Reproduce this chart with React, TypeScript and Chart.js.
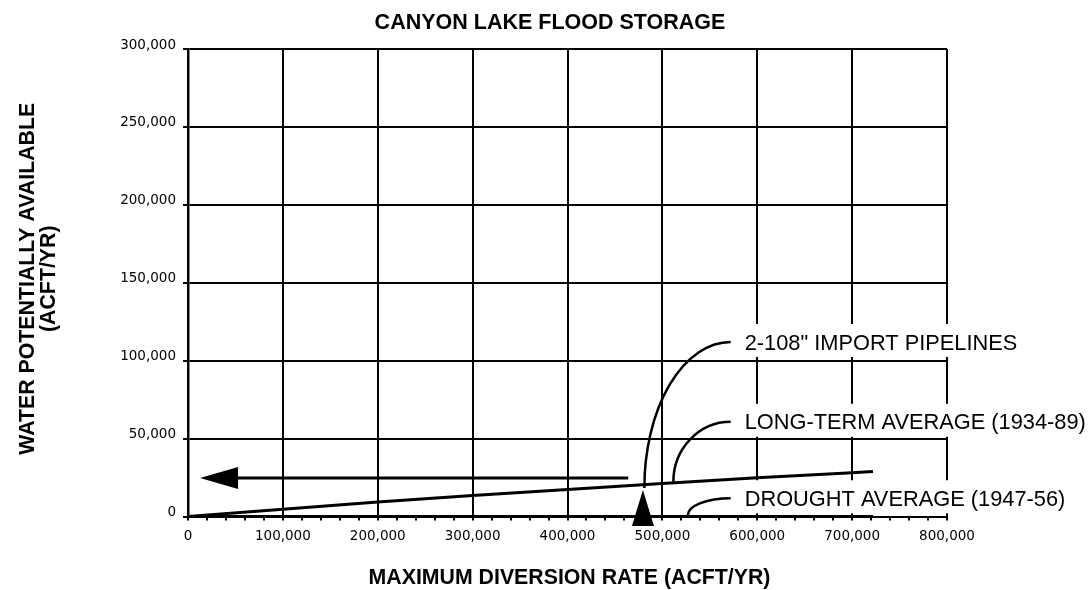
import React, { useEffect, useRef } from "react";
import { Chart, registerables } from "chart.js";

Chart.register(...registerables);

// ---------- data ----------
const diversionRates = [0, 100000, 200000, 300000, 400000, 500000, 600000, 700000, 722000];
const longTermAverage = [0, 4700, 9300, 13400, 17400, 21200, 24800, 28000, 28800];
const droughtAverage = [0, 0, 0, 0, 0, 0, 0, 0, 0];

const xMin = 0;
const xMax = 800000;
const xMajorStep = 100000;
const xMinorStep = 20000;
const yMin = 0;
const yMax = 300000;
const yStep = 50000;

const chartTitle = "CANYON LAKE FLOOD STORAGE";
const xAxisTitle = "MAXIMUM DIVERSION RATE (ACFT/YR)";
const yAxisTitle = ["WATER POTENTIALLY AVAILABLE", "(ACFT/YR)"];

// import arrow (horizontal, pointing to y axis)
const importArrowY = 24700;
const importArrowStartX = 464000;
const importArrowTipX = 12700;

// pipeline capacity marker (triangle on x axis)
const pipelineCapacityX = 479500;
const pipelineMarkerTopY = 17000;

// callouts
const calloutLabels = ['2-108" IMPORT PIPELINES', "LONG-TERM AVERAGE (1934-89)", "DROUGHT AVERAGE (1947-56)"];
const calloutAnchorX = [481000, 511600, 527000];
const calloutAnchorY = [18300, 22300, 1000];
const calloutEndX = [572000, 572000, 572000];
const calloutEndY = [112000, 60800, 11700];

const TITLE_FONT = 'bold 21.5px "Liberation Sans", Arial, sans-serif';
const AXIS_FONT = 'bold 21.3px "Liberation Sans", Arial, sans-serif';
const REG = '21.8px "Liberation Sans", Arial, sans-serif';

const annotationPlugin = {
  id: "annotations",
  beforeDatasetsDraw(chart: any) {
    const { ctx } = chart;
    const x = chart.scales.x;
    const y = chart.scales.y;
    ctx.save();
    ctx.font = REG;
    calloutLabels.forEach((t, i) => {
      const lx = x.getPixelForValue(calloutEndX[i]) + 14;
      const cy = y.getPixelForValue(calloutEndY[i]);
      const w = ctx.measureText(t).width;
      ctx.fillStyle = "#fff";
      ctx.fillRect(lx - 8, cy - 18, w + 16, 33);
    });
    ctx.restore();
  },
  afterDatasetsDraw(chart: any) {
    const { ctx } = chart;
    const x = chart.scales.x;
    const y = chart.scales.y;
    ctx.save();
    ctx.strokeStyle = "#000";
    ctx.fillStyle = "#000";

    // import arrow
    const ay = y.getPixelForValue(importArrowY);
    const tip = x.getPixelForValue(importArrowTipX);
    const start = x.getPixelForValue(importArrowStartX);
    ctx.lineWidth = 3;
    ctx.beginPath();
    ctx.moveTo(start, ay);
    ctx.lineTo(tip + 30, ay);
    ctx.stroke();
    ctx.beginPath();
    ctx.moveTo(tip, ay);
    ctx.lineTo(tip + 38, ay - 11);
    ctx.lineTo(tip + 38, ay + 11);
    ctx.closePath();
    ctx.fill();

    // pipeline triangle marker
    const px = x.getPixelForValue(pipelineCapacityX);
    const pTop = y.getPixelForValue(pipelineMarkerTopY);
    const pBase = y.getPixelForValue(0) + 9.5;
    ctx.beginPath();
    ctx.moveTo(px, pTop);
    ctx.lineTo(px + 11, pBase);
    ctx.lineTo(px - 11, pBase);
    ctx.closePath();
    ctx.fill();

    // callout leaders and labels
    ctx.lineWidth = 2.5;
    ctx.font = REG;
    ctx.textAlign = "left";
    ctx.textBaseline = "alphabetic";
    calloutLabels.forEach((t, i) => {
      const sx = x.getPixelForValue(calloutAnchorX[i]);
      const sy = y.getPixelForValue(calloutAnchorY[i]);
      const ex = x.getPixelForValue(calloutEndX[i]);
      const ey = y.getPixelForValue(calloutEndY[i]);
      ctx.beginPath();
      ctx.ellipse(ex, sy, ex - sx, sy - ey, 0, Math.PI, 1.5 * Math.PI);
      ctx.stroke();
      ctx.fillText(t, ex + 14, ey + 7.7);
    });
    ctx.restore();
  },
  afterDraw(chart: any) {
    const { ctx, chartArea } = chart;
    ctx.save();
    ctx.fillStyle = "#000";
    ctx.textAlign = "center";
    ctx.textBaseline = "alphabetic";
    ctx.font = TITLE_FONT;
    ctx.fillText(chartTitle, 550, 29);
    ctx.font = AXIS_FONT;
    ctx.fillText(xAxisTitle, (chartArea.left + chartArea.right) / 2 + 2, 583.5);
    const cy = (chartArea.top + chartArea.bottom) / 2 - 4;
    ctx.translate(0, cy);
    ctx.rotate(-Math.PI / 2);
    ctx.fillText(yAxisTitle[0], 0, 33.5);
    ctx.fillText(yAxisTitle[1], 0, 55);
    ctx.restore();
  },
};

export default function App() {
  const ref = useRef<HTMLCanvasElement>(null);
  useEffect(() => {
    if (!ref.current) return;
    const tickFont = { family: '"DejaVu Sans", Verdana, sans-serif', size: 13.5 };
    const chart = new Chart(ref.current, {
      type: "line",
      data: {
        datasets: [
          {
            label: "Long-term average (1934-89)",
            data: diversionRates.map((d, i) => ({ x: d, y: longTermAverage[i] })),
            borderColor: "#000",
            borderWidth: 3,
            pointRadius: 0,
            tension: 0,
          },
          {
            label: "Drought average (1947-56)",
            data: diversionRates.map((d, i) => ({ x: d, y: droughtAverage[i] })),
            borderColor: "#000",
            borderWidth: 3,
            pointRadius: 0,
            tension: 0,
          },
        ],
      },
      options: {
        responsive: false,
        animation: false,
        layout: { padding: { top: 49, right: 145, bottom: 28.5, left: 0 } },
        plugins: { legend: { display: false }, title: { display: false }, tooltip: { enabled: false } },
        scales: {
          x: {
            type: "linear",
            min: xMin,
            max: xMax,
            afterFit: (s: any) => {
              s.height = 45;
            },
            afterBuildTicks: (s: any) => {
              const t = [];
              for (let v = xMin; v <= xMax; v += xMinorStep) t.push({ value: v });
              s.ticks = t;
            },
            ticks: {
              autoSkip: false,
              maxRotation: 0,
              color: "#000",
              font: tickFont,
              padding: 8,
              callback: (v: any) => (Number(v) % xMajorStep === 0 ? Number(v).toLocaleString("en-US") : ""),
            },
            grid: {
              color: (c: any) => (c.tick && c.tick.value % xMajorStep === 0 ? "#000" : "rgba(0,0,0,0)"),
              lineWidth: 2,
              tickColor: "#000",
              tickLength: 4,
            },
            border: { color: "#000", width: 2 },
          },
          y: {
            type: "linear",
            min: yMin,
            max: yMax,
            afterFit: (s: any) => {
              s.width = 188;
            },
            ticks: {
              stepSize: yStep,
              color: "#000",
              font: tickFont,
              padding: 7,
              labelOffset: -4,
              callback: (v: any) => Number(v).toLocaleString("en-US"),
            },
            grid: { color: "#000", lineWidth: 2, tickLength: 5, tickColor: "#000" },
            border: { color: "#000", width: 2.5 },
          },
        },
      },
      plugins: [annotationPlugin],
    } as any);
    return () => chart.destroy();
  }, []);
  return (
    <div style={{ position: "absolute", left: 0, top: 0, width: 1092, height: 590, background: "#fff" }}>
      <canvas ref={ref} width={1092} height={590} style={{ display: "block" }} />
    </div>
  );
}
